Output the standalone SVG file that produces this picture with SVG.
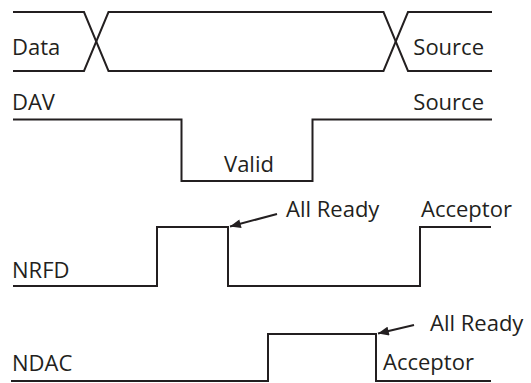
<svg xmlns="http://www.w3.org/2000/svg" width="531" height="383" viewBox="0 0 531 383">
<style>
.w{fill:none;stroke:#231f20;stroke-width:2;stroke-linejoin:miter}
.t{font-family:"Open Sans",Lato,sans-serif;font-size:22px;fill:#231f20}
.r{text-anchor:end}
.m{text-anchor:middle}
</style>
<defs>
<marker id="ah2" viewBox="0 0 12 10" refX="12" refY="5" markerWidth="12" markerHeight="9" markerUnits="userSpaceOnUse" orient="auto">
<path d="M0,0 L12,5 L0,10 z" fill="#231f20"/>
</marker>
</defs>
<g id="data">
<text class="t" x="12" y="55">Data</text>
<text class="t r" x="484" y="55">Source</text>
</g>
<g id="dav">
<text class="t" x="12" y="110">DAV</text>
<text class="t r" x="484" y="110">Source</text>
<text class="t m" x="249" y="172">Valid</text>
</g>
<g id="nrfd">
<text class="t" x="12" y="278">NRFD</text>
<text class="t" x="286" y="217">All Ready</text>
<text class="t" x="421" y="217">Acceptor</text>
</g>
<g id="ndac">
<text class="t" x="12" y="371">NDAC</text>
<text class="t" x="430" y="331">All Ready</text>
<text class="t" x="383" y="370">Acceptor</text>
</g>
<g id="connectors">
<polyline class="w" points="13,12 84,12 108.5,71 383.5,71 408,12 492,12"/>
<polyline class="w" points="13,71 84,71 108.5,12 383.5,12 408,71 492,71"/>
<polyline class="w" points="13,119.5 181.5,119.5 181.5,181 312.5,181 312.5,119.5 492,119.5"/>
<polyline class="w" points="13,286 157,286 157,227 228,227 228,286 420,286 420,227 491,227"/>
<polyline class="w" points="11,381 268,381 268,334 376,334 376,381 491,381"/>
<line class="w" x1="277" y1="214" x2="230" y2="226.5" stroke-width="1.6" marker-end="url(#ah2)"/>
<line class="w" x1="414" y1="325" x2="378" y2="333.5" stroke-width="1.6" marker-end="url(#ah2)"/>
</g>
</svg>
